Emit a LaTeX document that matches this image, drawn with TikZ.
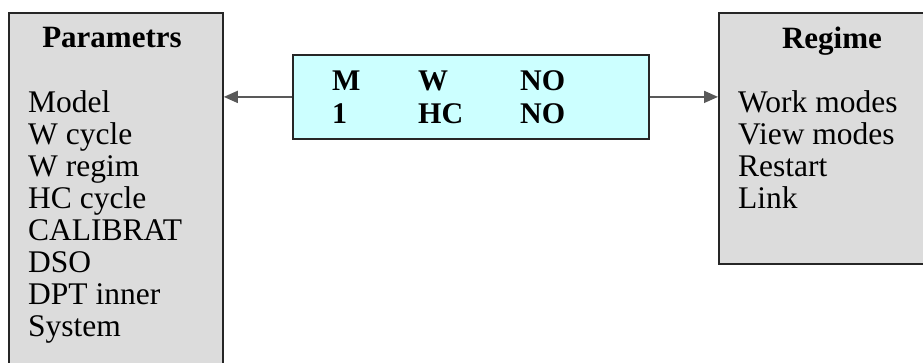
\documentclass[tikz,border=0pt]{standalone}
\usepackage{fontspec}
\setmainfont{Liberation Serif}
\usetikzlibrary{arrows.meta}
\definecolor{panelgray}{HTML}{DCDCDC}
\definecolor{statecyan}{HTML}{CCFFFF}
\tikzset{
  panel/.style={draw=black!85, line width=1.8pt, fill=panelgray, inner sep=0pt, anchor=north west},
  statebox/.style={draw=black!85, line width=1.8pt, fill=statecyan, inner sep=0pt, anchor=north west},
  item/.style={anchor=base west, inner sep=0pt, font=\fontsize{31.5}{32}\selectfont},
  head/.style={anchor=base, inner sep=0pt, font=\fontsize{31}{32}\selectfont\bfseries},
  cell/.style={anchor=base west, inner sep=0pt, font=\fontsize{30}{32}\selectfont\bfseries},
  link/.style={draw=black!65, line width=1.6pt, -{Triangle[length=14pt,width=12pt]}}
}
\begin{document}
\begin{tikzpicture}[x=1pt, y=-1pt]
	\clip (0,0) rectangle (923,362);
	\fill[white] (0,0) rectangle (923,362);
	
	%Kaesten
	\node[panel, minimum width=214pt, minimum height=380pt] (param) at (8,12) {};
	\node[panel, minimum width=240pt, minimum height=251pt] (regime) at (718,12) {};
	\node[statebox, minimum width=356pt, minimum height=84pt] (state) at (292,54) {};
	
	%Parametrs
	\node[head] (paramhead) at (112,47) {Parametrs};
	\node[item] (model) at (28,112) {Model};
	\node[item] (wcycle) at (28,144) {W cycle};
	\node[item] (wregim) at (28,176) {W regim};
	\node[item] (hccycle) at (28,208) {HC cycle};
	\node[item] (calibrat) at (28,240) {CALIBRAT};
	\node[item] (dso) at (28,272) {DSO};
	\node[item] (dptinner) at (28,304) {DPT inner};
	\node[item] (system) at (28,336) {System};
	
	%Regime
	\node[head] (regimehead) at (832,48) {Regime};
	\node[item] (workmodes) at (738,112) {Work modes};
	\node[item] (viewmodes) at (738,144) {View modes};
	\node[item] (restart) at (738,176) {Restart};
	\node[item] (linkitem) at (738,208) {Link};
	
	%Zustand
	\node[cell] (cm) at (332,90) {M};
	\node[cell] (cw) at (418,90) {W};
	\node[cell] (cno) at (520,90) {NO};
	\node[cell] (cone) at (332,123) {1};
	\node[cell] (chc) at (418,123) {HC};
	\node[cell] (cnotwo) at (520,123) {NO};
	
	%Pfeile
	\draw[link] (state.west) -- (param.east |- state.west);
	\draw[link] (state.east) -- (regime.west |- state.east);
\end{tikzpicture}
\end{document}
